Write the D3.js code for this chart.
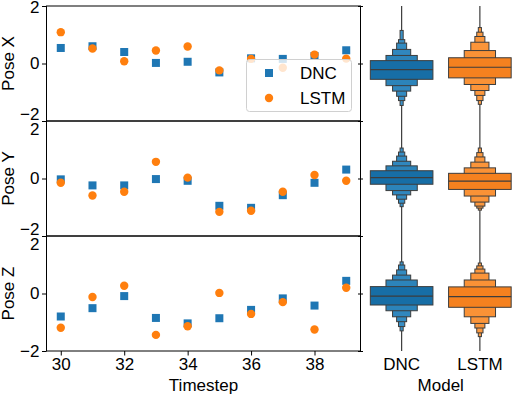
<!DOCTYPE html>
<html>
<head>
<meta charset="utf-8">
<script src="https://cdn.jsdelivr.net/npm/d3@7"></script>
<style>
body { margin: 0; background: #fff; }
svg { font-family: "Liberation Sans", Arial, sans-serif; }
</style>
</head>
<body>
<div id="chart"></div>
<script>

// ---- data ----
var timesteps = [30, 31, 32, 33, 34, 35, 36, 37, 38, 39];
var poses = ["Pose X", "Pose Y", "Pose Z"];
var models = ["DNC", "LSTM"];
var xTicks = [30, 32, 34, 36, 38];
var yTicks = [-2, 0, 2];

var dncX  = [0.54, 0.60, 0.40, 0.02, 0.06, -0.31, 0.18, 0.16, 0.26, 0.46];
var lstmX = [1.09, 0.52, 0.08, 0.45, 0.59, -0.24, 0.16, -0.15, 0.31, 0.17];
var dncY  = [-0.03, -0.24, -0.24, -0.02, -0.08, -0.95, -1.02, -0.58, -0.15, 0.31];
var lstmY = [-0.15, -0.59, -0.46, 0.58, 0.03, -1.16, -1.12, -0.46, 0.12, -0.08];
var dncZ  = [-0.80, -0.51, -0.09, -0.85, -1.04, -0.86, -0.57, -0.17, -0.42, 0.44];
var lstmZ = [-1.19, -0.12, 0.27, -1.44, -1.14, 0.02, -0.71, -0.30, -1.25, 0.20];

// letter values of the error distributions, [upper, lower], inner box first
var dncXLevels  = [[0.10, -0.55], [0.28, -0.77], [0.49, -0.96], [0.71, -1.14], [0.83, -1.29], [1.15, -1.46]];
var lstmXLevels = [[0.20, -0.50], [0.45, -0.73], [0.74, -0.94], [0.94, -1.11], [1.09, -1.29], [1.25, -1.42]];
var dncYLevels  = [[0.27, -0.20], [0.44, -0.42], [0.60, -0.57], [0.78, -0.72], [0.92, -0.86], [1.06, -0.98]];
var lstmYLevels = [[0.18, -0.38], [0.37, -0.61], [0.57, -0.82], [0.75, -0.96], [0.90, -1.03], [1.06, -1.10]];
var dncZLevels  = [[0.24, -0.40], [0.47, -0.60], [0.64, -0.81], [0.82, -0.98], [0.99, -1.15], [1.10, -1.30]];
var lstmZLevels = [[0.23, -0.48], [0.47, -0.81], [0.71, -1.04], [0.85, -1.20], [0.96, -1.37], [1.06, -1.50]];
var dncMedians  = [-0.21, 0.03, -0.09];
var lstmMedians = [-0.13, -0.09, -0.11];
var dncRange  = [[2.0, -2.0], [2.0, -2.0], [2.0, -2.0]];
var lstmRange = [[2.0, -2.0], [2.0, -2.0], [2.0, -2.0]];
var poseOffsets = [4, 0, -4];

// ---- layout ----
var W = 512, H = 394;
var plotLeft = 46.5, plotRight = 360.5, plotTop = 6, panelH = 115;
var colors = { DNC: "#1f77b4", LSTM: "#ff7f0e" };
var boxMain = { DNC: "#176ea6", LSTM: "#f5811f" };
var boxLight = { DNC: "#3a92c8", LSTM: "#fd9d45" };
var levelWidths = [1, 0.5, 0.29, 0.16, 0.1, 0.05];
var edge = "#3d3d3d";

var svg = d3.select("#chart").append("svg")
    .attr("width", W)
    .attr("height", H);

var x = d3.scaleLinear()
    .domain([29.55, 39.45])
    .range([plotLeft, plotRight]);

var scatterSeries = [[dncX, lstmX], [dncY, lstmY], [dncZ, lstmZ]];

var fmt = function(d) { return d < 0 ? "\u2212" + Math.abs(d) : d; };

poses.forEach(function(pose, i) {
    var y0 = plotTop + i * panelH;
    var y = d3.scaleLinear()
        .domain([-2, 2])
        .range([y0 + panelH, y0]);

    var g = svg.append("g");

    var yAxis = g.append("g")
        .attr("transform", "translate(" + plotLeft + ",0)")
        .call(d3.axisLeft(y).tickValues(yTicks).tickSize(4.5).tickPadding(2.5).tickFormat(fmt));
    yAxis.select(".domain").remove();
    yAxis.selectAll("line").attr("stroke", "#000");
    yAxis.selectAll("text")
        .attr("font-size", 17)
        .attr("font-family", "Liberation Sans, Arial, sans-serif")
        .attr("fill", "#000")
        .attr("transform", function(d) {
            // labels at the panel joins are nudged apart
            if (d === 2 && i > 0) return "translate(0,8)";
            if (d === -2 && i < 2) return "translate(0,-6.5)";
            if (d === 2 && i === 0) return "translate(0,1)";
            return null;
        });

    g.append("text")
        .attr("transform", "translate(8," + y(0) + ") rotate(-90)")
        .attr("text-anchor", "middle")
        .attr("dominant-baseline", "central")
        .attr("font-size", 17)
        .text(pose);

    // DNC squares, then LSTM circles on top
    g.selectAll("rect.dnc")
        .data(timesteps)
        .enter().append("rect")
        .attr("class", "dnc")
        .attr("x", function(d) { return x(d) - 4; })
        .attr("y", function(d, j) { return y(scatterSeries[i][0][j]) - 4; })
        .attr("width", 8)
        .attr("height", 8)
        .attr("fill", colors.DNC);

    g.selectAll("circle.lstm")
        .data(timesteps)
        .enter().append("circle")
        .attr("class", "lstm")
        .attr("cx", function(d) { return x(d); })
        .attr("cy", function(d, j) { return y(scatterSeries[i][1][j]); })
        .attr("r", 4.2)
        .attr("fill", colors.LSTM);

    g.append("rect")
        .attr("x", plotLeft)
        .attr("y", y0)
        .attr("width", plotRight - plotLeft)
        .attr("height", panelH)
        .attr("fill", "none")
        .attr("stroke", "#000")
        .attr("stroke-width", 1);

    if (i === 2) {
        var xAxis = g.append("g")
            .attr("transform", "translate(0," + (y0 + panelH) + ")")
            .call(d3.axisBottom(x).tickValues(xTicks).tickSize(4.5).tickPadding(2.5));
        xAxis.select(".domain").remove();
        xAxis.selectAll("line").attr("stroke", "#000");
        xAxis.selectAll("text")
            .attr("font-size", 17)
            .attr("font-family", "Liberation Sans, Arial, sans-serif")
            .attr("fill", "#000");
    }
});

svg.append("text")
    .attr("x", (plotLeft + plotRight) / 2)
    .attr("y", 385)
    .attr("text-anchor", "middle")
    .attr("dominant-baseline", "central")
    .attr("font-size", 17)
    .text("Timestep");

// legend
var legend = svg.append("g");
legend.append("rect")
    .attr("x", 246.5).attr("y", 59.5)
    .attr("width", 105).attr("height", 52)
    .attr("rx", 3)
    .attr("fill", "#fff").attr("fill-opacity", 0.8)
    .attr("stroke", "#d0d0d0");
legend.selectAll("g.item")
    .data(models)
    .enter().append("g")
    .attr("class", "item")
    .attr("transform", function(d, j) { return "translate(269," + (73 + j * 25) + ")"; })
    .each(function(d) {
        var item = d3.select(this);
        if (d === "DNC") {
            item.append("rect").attr("x", -4).attr("y", -4).attr("width", 8).attr("height", 8).attr("fill", colors.DNC);
        } else {
            item.append("circle").attr("r", 4.2).attr("fill", colors.LSTM);
        }
        item.append("text")
            .attr("x", 31)
            .attr("dominant-baseline", "central")
            .attr("font-size", 17)
            .text(d);
    });

// ---- boxen panel ----
var yR = d3.scaleLinear()
    .domain([-6, 6])
    .range([plotTop + 3 * panelH, plotTop]);

var xR = d3.scaleBand()
    .domain(models)
    .range([362.5, 519]);

var boxW = xR.bandwidth() * 0.8;
var levels = { DNC: [dncXLevels, dncYLevels, dncZLevels], LSTM: [lstmXLevels, lstmYLevels, lstmZLevels] };
var medians = { DNC: dncMedians, LSTM: lstmMedians };
var ranges = { DNC: dncRange, LSTM: lstmRange };

var boxen = svg.append("g");

models.forEach(function(m) {
    var cx = xR(m) + xR.bandwidth() / 2;
    // outlier trail
    poses.forEach(function(p, i) {
        boxen.append("line")
            .attr("x1", cx).attr("x2", cx)
            .attr("y1", yR(poseOffsets[i] + ranges[m][i][0]))
            .attr("y2", yR(poseOffsets[i] + ranges[m][i][1]))
            .attr("stroke", edge)
            .attr("stroke-width", 1.2);
    });
    poses.forEach(function(p, i) {
        var lv = levels[m][i];
        var color = d3.interpolateRgb(boxMain[m], boxLight[m]);
        // draw outer (narrow) levels first
        for (var k = lv.length - 1; k >= 0; k--) {
            var w = boxW * levelWidths[k];
            boxen.append("rect")
                .attr("x", cx - w / 2)
                .attr("y", yR(poseOffsets[i] + lv[k][0]))
                .attr("width", w)
                .attr("height", yR(poseOffsets[i] + lv[k][1]) - yR(poseOffsets[i] + lv[k][0]))
                .attr("fill", k === 0 ? boxMain[m] : color(Math.min(1, 0.5 + k * 0.1)))
                .attr("stroke", edge)
                .attr("stroke-width", 1);
        }
        boxen.append("line")
            .attr("x1", cx - boxW / 2).attr("x2", cx + boxW / 2)
            .attr("y1", yR(poseOffsets[i] + medians[m][i]))
            .attr("y2", yR(poseOffsets[i] + medians[m][i]))
            .attr("stroke", edge)
            .attr("stroke-width", 1.2);
    });
});

// boxen left spine and ticks
var yRAxis = svg.append("g")
    .attr("transform", "translate(363,0)")
    .call(d3.axisLeft(yR).tickValues([-6, -4, -2, 0, 2, 4, 6]).tickSize(5).tickFormat(""));
yRAxis.select(".domain").remove();
yRAxis.selectAll("line").attr("stroke", "#000");

svg.append("line")
    .attr("x1", plotRight).attr("x2", plotRight)
    .attr("y1", plotTop).attr("y2", plotTop + 3 * panelH)
    .attr("stroke", "#000");

var xRAxis = svg.append("g")
    .attr("transform", "translate(0," + (plotTop + 3 * panelH) + ")")
    .call(d3.axisBottom(xR).tickSize(0).tickPadding(7));
xRAxis.select(".domain").remove();
xRAxis.selectAll("text")
    .attr("font-size", 17)
    .attr("font-family", "Liberation Sans, Arial, sans-serif")
    .attr("fill", "#000");

svg.append("text")
    .attr("x", (362.5 + 519) / 2)
    .attr("y", 385)
    .attr("text-anchor", "middle")
    .attr("dominant-baseline", "central")
    .attr("font-size", 17)
    .text("Model");

</script>
</body>
</html>
